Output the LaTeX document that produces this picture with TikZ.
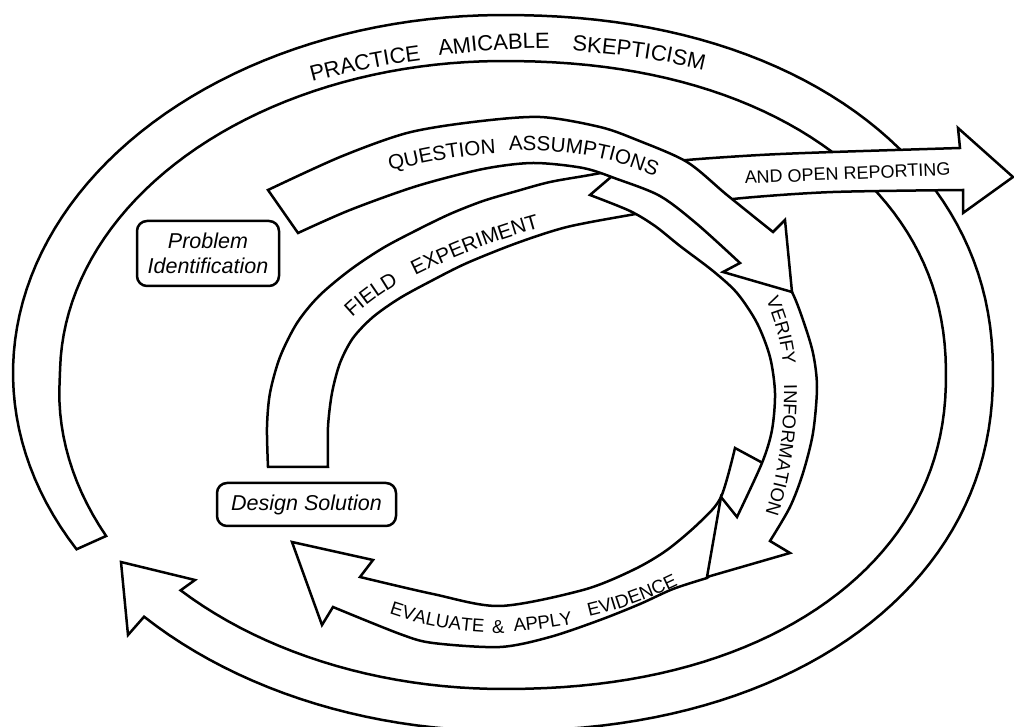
\documentclass[tikz,border=0pt]{standalone}
\usepackage{fontspec}
\setmainfont{Liberation Sans}
\newcommand{\bandword}[5]{%
  \node[letterbox] (ch0) at #1 {};
  \foreach \ch [count=\i, remember=\i as \j (initially 0)] in {#5}
    \node[letterbox,font=\fontsize{#4}{#4}\selectfont,rotate={#2+(\i-1)*(#3)}] (ch\i) at (ch\j.base east) {\ch};
}

\begin{document}
\begin{tikzpicture}[
    x=0.5pt,y=-0.5pt,
    bandShape/.style={draw=black,fill=white,line width=1.25pt,line join=miter},
    letterbox/.style={inner sep=0pt,outer sep=0pt,anchor=base west},
    stagebox/.style={draw=black,fill=white,line width=1.25pt,rounded corners=5pt,align=center,inner sep=0pt,font=\fontsize{10.75}{12.5}\selectfont\itshape}
]
\useasboundingbox (0,0) rectangle (1014,727);
\draw[bandShape] plot[domain=209.5:-137.1,samples=170,variable=\t] ({503+490*cos(\t)*(abs(cos(\t))+0.00001)^((cos(\t)>0)*(-0.07))},{373-358*sin(\t)*(abs(sin(\t))+0.00001)^((cos(\t)>0)*(-0.07))})
  -- (128,635) -- (121,562) -- (195,580) --
  plot[domain=-136.7:209.5,samples=170,variable=\t] ({503+(443+13*max(0,(\t-180)/29.5))*cos(\t)*(abs(cos(\t))+0.00001)^((cos(\t)>0)*(-0.08))},{375-(314+13*max(0,(\t-180)/29.5))*sin(\t)*(abs(sin(\t))+0.00001)^((cos(\t)>0)*(-0.08))}) -- cycle;
\bandword{(310,82)}{14.5}{-0.95}{11}{P,R,A,C,T,I,C,E}
\bandword{(437,56)}{7.5}{-0.95}{11}{A,M,I,C,A,B,L,E}
\bandword{(570,51)}{-4}{-0.95}{11}{S,K,E,P,T,I,C,I,S,M}
\draw[bandShape] plot[smooth] coordinates {(268,467) (267,427) (270,393) (280,357) (297,323) (319,296) (350,270) (383,248) (417,230) (450,214) (483,201) (517,191) (550,182) (590,175) (640,166) (687,160) (760,155) (833,152) (960,148)}
  -- (958,128) -- (1013,177) -- (963,213) --
  plot[smooth] coordinates {(963,190) (833,192) (743,198) (690,205) (630,215) (567,227) (517,243) (467,263) (433,280) (400,298) (373,317) (353,338) (340,363) (332,393) (328,427) (328,467)} -- cycle;
\bandword{(350,318)}{42}{-2.5}{10.3}{F,I,E,L,D}
\bandword{(413,276)}{26}{-1.1}{10.3}{E,X,P,E,R,I,M,E,N,T}
\node[letterbox,font=\fontsize{9}{9}\selectfont,rotate=2.5] (reporting) at (745,184) {AND OPEN REPORTING};
\draw[bandShape] (735,448) -- (785,475) -- (760,530) --
  plot[smooth] coordinates {(707,578) (673,589) (640,604) (600,620) (550,637) (500,647) (433,643) (400,634) (333,607)}
  -- (322,625) -- (292,542) -- (373,560) --
  plot[smooth] coordinates {(360,577) (433,594) (500,606) (583,590) (633,570) (667,550) (700,522) (721,497) (735,448)} -- cycle;
\bandword{(387,614)}{-18}{2}{9.3}{E,V,A,L,U,A,T,E}
\bandword{(490,634)}{1}{0}{9.3}{\&}
\bandword{(512,632)}{5}{1.5}{9.3}{A,P,P,L,Y}
\bandword{(587,617)}{14}{1.6}{9.3}{E,V,I,D,E,N,C,E}
\draw[bandShape] (590,195) -- (625,165) --
  plot[smooth] coordinates {(625,165) (700,200) (772,258) (792,292) (803,320) (813,353) (817,387) (813,433) (803,473) (790,507) (770,541)}
  -- (790,553) -- (707,577) -- (721,497) --
  plot[smooth] coordinates {(737,517) (762,463) (772,430) (775,393) (770,357) (757,323) (737,293) (713,271) (680,246) (655,226) (630,211) (590,195)} -- cycle;
\bandword{(764,300)}{-68}{-3}{9.3}{V,E,R,I,F,Y}
\bandword{(782,385)}{-89}{-1.8}{9.3}{I,N,F,O,R,M,A,T,I,O,N}
\draw[bandShape] plot[smooth] coordinates {(268,190) (340,157) (407,133) (473,122) (540,117) (600,127) (637,140) (687,162) (727,195) (773,232)}
  -- (785,220) -- (792,292) -- (723,272) --
  plot[smooth] coordinates {(740,263) (697,224) (660,196) (617,179) (583,168) (533,163) (483,169) (417,186) (350,210) (298,233)} -- cycle;
\bandword{(388,171)}{14}{-1.4}{10.3}{Q,U,E,S,T,I,O,N}
\bandword{(507,151)}{2}{-2.4}{10.3}{A,S,S,U,M,P,T,I,O,N,S}
\node[stagebox,minimum width=71pt,minimum height=32.5pt] (problem) at (208,253.5) {Problem\\Identification};
\node[stagebox,minimum width=89.5pt,minimum height=21.5pt] (design) at (306.5,504.5) {Design Solution};
\end{tikzpicture}
\end{document}
